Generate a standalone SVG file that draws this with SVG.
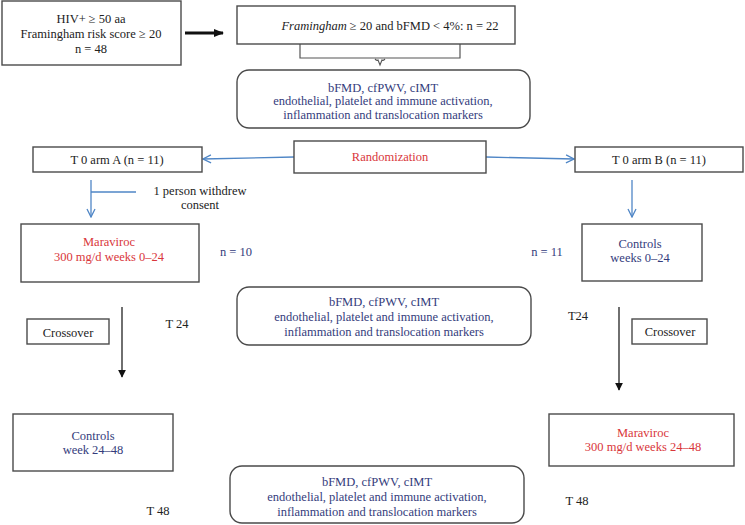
<svg xmlns="http://www.w3.org/2000/svg" width="745" height="525" viewBox="0 0 745 525">
<defs>
<style>
text{font-family:"Liberation Serif","Times New Roman",serif;font-size:12.5px;fill:#222;text-anchor:middle;}
.nv{fill:#343c7c;}
.rd{fill:#d9363b;}
.bx{fill:#fff;stroke:#4a4a4a;stroke-width:1.4;}
.bl{stroke:#4f86c6;stroke-width:1.3;fill:none;}
.bk{stroke:#222;stroke-width:1.3;fill:none;}
</style>
<marker id="ob" viewBox="0 0 10 10" refX="9" refY="5" markerWidth="10" markerHeight="10" markerUnits="userSpaceOnUse" orient="auto">
<path d="M1,1 L9,5 L1,9" fill="none" stroke="#4f86c6" stroke-width="1.3"/>
</marker>
<marker id="fb" viewBox="0 0 10 10" refX="9" refY="5" markerWidth="8" markerHeight="8" markerUnits="userSpaceOnUse" orient="auto">
<path d="M0,0 L10,5 L0,10 Z" fill="#111"/>
</marker>
<marker id="fbig" viewBox="0 0 10 10" refX="9" refY="5" markerWidth="10" markerHeight="10" markerUnits="userSpaceOnUse" orient="auto">
<path d="M0,1 L10,5 L0,9 Z" fill="#111"/>
</marker>
</defs>
<rect width="745" height="525" fill="#fff"/>

<g id="connectors">
<line x1="185" y1="33" x2="223" y2="33" stroke="#111" stroke-width="3" marker-end="url(#fbig)"/>
<path d="M300,44 V58 H460 V44" fill="none" stroke="#555" stroke-width="1.2"/>
<path d="M375,59 Q377,61 378,60 L380,65 L382,60 Q383,61 385,59" fill="none" stroke="#555" stroke-width="1.1"/>
<line class="bl" x1="294" y1="157" x2="203" y2="159" marker-end="url(#ob)"/>
<line class="bl" x1="486" y1="157" x2="574" y2="159" marker-end="url(#ob)"/>
<line class="bl" x1="91" y1="180" x2="91" y2="217" marker-end="url(#ob)"/>
<line class="bl" x1="91" y1="192" x2="136" y2="192"/>
<line class="bl" x1="632" y1="180" x2="632" y2="217" marker-end="url(#ob)"/>
<line class="bk" x1="122" y1="307" x2="122" y2="377" marker-end="url(#fb)"/>
<line class="bk" x1="619" y1="307" x2="619" y2="390" marker-end="url(#fb)"/>
</g>

<g id="n_hiv">
<rect class="bx" x="2" y="1" width="179" height="64"/>
<text x="91" y="23">HIV+ ≥ 50 aa</text>
<text x="91" y="38">Framingham risk score ≥ 20</text>
<text x="91" y="53">n = 48</text>
</g>

<g id="n_fram">
<rect class="bx" x="237" y="6" width="278" height="38"/>
<text x="390" y="30"><tspan font-style="italic">Framingham</tspan> ≥ 20 and bFMD &lt; 4%: n = 22</text>
</g>

<g id="n_meas0">
<rect class="bx" x="237" y="70" width="293" height="58" rx="12"/>
<text class="nv" x="383" y="92">bFMD, cfPWV, cIMT</text>
<text class="nv" x="383" y="105">endothelial, platelet and immune activation,</text>
<text class="nv" x="383" y="119">inflammation and translocation markers</text>
</g>

<g id="n_armA">
<rect class="bx" x="33" y="147" width="169" height="25"/>
<text x="117" y="164">T 0 arm A (n = 11)</text>
</g>

<g id="n_rand">
<rect class="bx" x="294" y="141" width="192" height="32"/>
<text class="rd" x="390" y="161">Randomization</text>
</g>

<g id="n_armB">
<rect class="bx" x="575" y="147" width="168" height="25"/>
<text x="659" y="164">T 0 arm B (n = 11)</text>
</g>

<g id="n_withdrew">
<text x="200" y="195">1 person withdrew</text>
<text x="200" y="209">consent</text>
</g>

<g id="n_mvcA">
<rect class="bx" x="21" y="224" width="178" height="58"/>
<text class="rd" x="109" y="246">Maraviroc</text>
<text class="rd" x="109" y="261">300 mg/d weeks 0–24</text>
</g>

<g id="n_n10"><text class="nv" x="236" y="256">n = 10</text></g>
<g id="n_n11"><text class="nv" x="547" y="256">n = 11</text></g>

<g id="n_ctrlB">
<rect class="bx" x="582" y="224" width="120" height="57"/>
<text class="nv" x="640" y="248">Controls</text>
<text class="nv" x="640" y="262">weeks 0–24</text>
</g>

<g id="n_meas24">
<rect class="bx" x="237" y="287" width="294" height="58" rx="12"/>
<text class="nv" x="384" y="306">bFMD, cfPWV, cIMT</text>
<text class="nv" x="384" y="321">endothelial, platelet and immune activation,</text>
<text class="nv" x="384" y="336">inflammation and translocation markers</text>
</g>

<g id="n_crossA">
<rect class="bx" x="27" y="319" width="82" height="25"/>
<text x="68" y="337">Crossover</text>
</g>

<g id="n_t24A"><text x="177" y="328">T 24</text></g>
<g id="n_t24B"><text x="578" y="320">T24</text></g>

<g id="n_crossB">
<rect class="bx" x="632" y="319" width="75" height="25"/>
<text x="670" y="336">Crossover</text>
</g>

<g id="n_ctrlA">
<rect class="bx" x="13" y="414" width="160" height="57"/>
<text class="nv" x="93" y="440">Controls</text>
<text class="nv" x="93" y="454">week 24–48</text>
</g>

<g id="n_mvcB">
<rect class="bx" x="549" y="414" width="185" height="52"/>
<text class="rd" x="643" y="437">Maraviroc</text>
<text class="rd" x="643" y="451">300 mg/d weeks 24–48</text>
</g>

<g id="n_meas48">
<rect class="bx" x="230" y="466" width="294" height="57" rx="12"/>
<text class="nv" x="377" y="486">bFMD, cfPWV, cIMT</text>
<text class="nv" x="377" y="501">endothelial, platelet and immune activation,</text>
<text class="nv" x="377" y="516">inflammation and translocation markers</text>
</g>

<g id="n_t48A"><text x="158" y="515">T 48</text></g>
<g id="n_t48B"><text x="577" y="505">T 48</text></g>
</svg>
